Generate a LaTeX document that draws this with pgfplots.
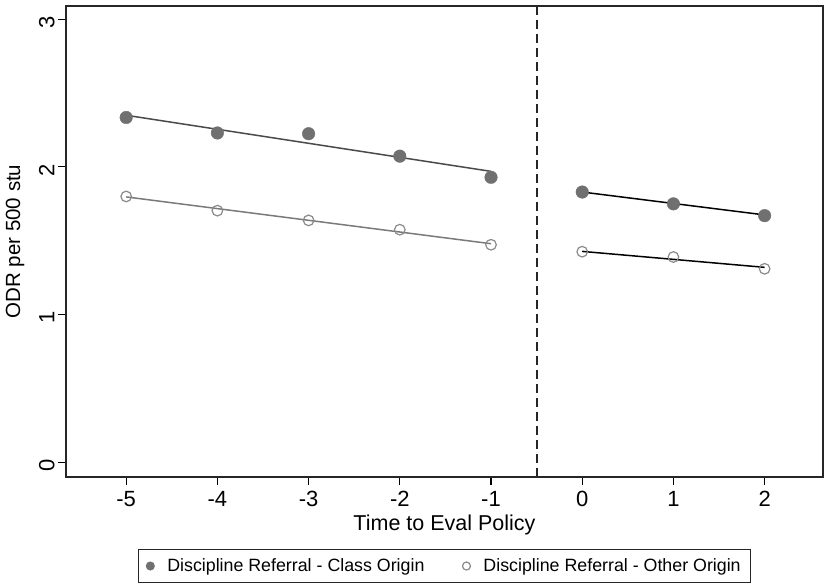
\documentclass[border=0pt]{standalone}
\usepackage{pgfplots}
\pgfplotsset{compat=1.18}
\usepackage{fontspec}
\setmainfont{Liberation Sans}
\definecolor{fillgray}{HTML}{707070}
\definecolor{ringgray}{HTML}{8A8A8A}
\definecolor{lineA}{HTML}{4A4A4A}
\definecolor{lineB}{HTML}{7A7A7A}
\begin{document}
\begin{tikzpicture}
\begin{axis}[
  scale only axis,
  width=757pt, height=471pt,
  xmin=-5.66, xmax=2.64,
  ymin=-0.10, ymax=3.09,
  xtick={-5,-4,-3,-2,-1,0,1,2},
  ytick={0,1,2,3},
  xtick pos=bottom, ytick pos=left,
  tick align=outside,
  major tick length=8pt,
  every tick/.style={black, line width=1.1pt},
  axis line style={black!85, line width=1.2pt},
  /pgf/number format/assume math mode=true,
  tick label style={font=\fontsize{22}{22}\selectfont},
  xticklabel style={yshift=-3pt},
  yticklabel style={rotate=90, anchor=south, xshift=-3pt},
  xlabel={Time to Eval Policy},
  ylabel={ODR per 500 stu},
  every axis x label/.style={at={(axis description cs:0.5,0)}, anchor=center, yshift=-48pt, font=\fontsize{21.5}{21.5}\selectfont},
  every axis y label/.style={at={(axis description cs:0,0.5)}, xshift=-51pt, rotate=90, anchor=center, font=\fontsize{20.5}{20.5}\selectfont},
  legend columns=2,
  legend style={at={(axis description cs:0.5,-0.189)}, anchor=center,
    draw=black!85, line width=1pt, font=\fontsize{17.8}{17.8}\selectfont,
    inner xsep=8pt, inner ysep=7pt,
    /tikz/every odd column/.append style={column sep=11pt},
    /tikz/every even column/.append style={column sep=36pt}},
  legend image code/.code={\draw[#1, mark size=4pt] plot coordinates {(0pt,0pt)};},
]
% fitted lines
\addplot[forget plot, lineA, line width=1.5pt] coordinates {(-5,2.35) (-1,1.97)};
\addplot[forget plot, lineB, line width=1.5pt] coordinates {(-5,1.797) (-1,1.48)};
\addplot[forget plot, black, line width=1.5pt] coordinates {(0,1.83) (2,1.675)};
\addplot[forget plot, black, line width=1.5pt] coordinates {(0,1.428) (2,1.32)};
% dashed policy line
\addplot[forget plot, black!85, line width=1.8pt, dash pattern=on 9pt off 5pt] coordinates {(-0.5,-0.10) (-0.5,3.09)};
% points
\addplot[only marks, mark=*, mark size=6.3pt, draw=fillgray, fill=fillgray] coordinates {
(-5,2.335) (-4,2.23) (-3,2.225) (-2,2.073) (-1,1.93) (0,1.83) (1,1.75) (2,1.67)};
\addlegendentry{Discipline Referral - Class Origin}
\addplot[only marks, mark=o, mark size=5.3pt, draw=ringgray, line width=1.2pt] coordinates {
(-5,1.80) (-4,1.704) (-3,1.638) (-2,1.575) (-1,1.473) (0,1.426) (1,1.39) (2,1.31)};
\addlegendentry{Discipline Referral - Other Origin}
\end{axis}
\pgfresetboundingbox
\path (-66pt,-109pt) rectangle (758pt,477pt);
\end{tikzpicture}
\end{document}
